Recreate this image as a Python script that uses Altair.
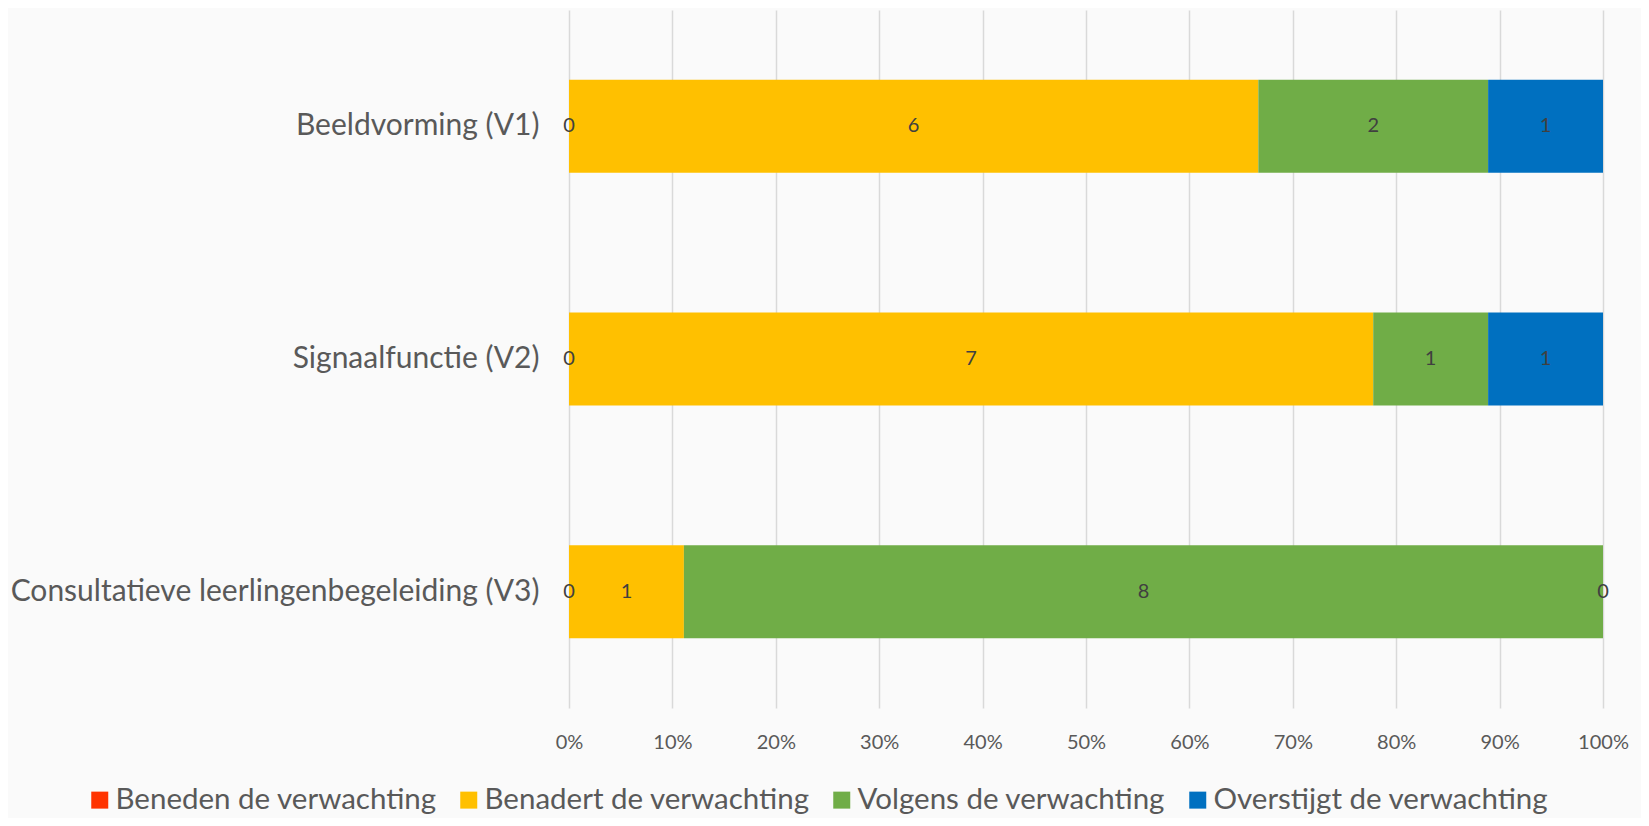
import altair as alt
import pandas as pd

categories = ["Beeldvorming (V1)", "Signaalfunctie (V2)", "Consultatieve leerlingenbegeleiding (V3)"]
series = ["Beneden de verwachting", "Benadert de verwachting", "Volgens de verwachting", "Overstijgt de verwachting"]
colors = ["#FF3300", "#FFC000", "#70AD47", "#0070C0"]
beneden = [0, 0, 0]
benadert = [6, 7, 1]
volgens = [2, 1, 8]
overstijgt = [1, 1, 0]

values = [beneden, benadert, volgens, overstijgt]
rows = []
for ci, cat in enumerate(categories):
    total = sum(v[ci] for v in values)
    cum = 0
    for si, s in enumerate(series):
        val = values[si][ci]
        start = cum / total
        cum += val
        end = cum / total
        rows.append({"cat": cat, "series": s, "order": si, "value": val,
                     "start": start, "end": end, "mid": (start + end) / 2})
df = pd.DataFrame(rows)

FONT = "Lato"

y_enc = alt.Y("cat:N", sort=categories, title=None,
              scale=alt.Scale(paddingInner=0.6, paddingOuter=0.3),
              axis=alt.Axis(labelFontSize=30, labelColor="#595959", labelFont=FONT,
                            domain=False, ticks=False, labelPadding=30, labelLimit=600, grid=False))

bars = alt.Chart(df).mark_bar(stroke=None).encode(
    y=y_enc,
    x=alt.X("start:Q", title=None,
            scale=alt.Scale(domain=[0, 1], nice=False),
            axis=alt.Axis(format="%", values=[i / 10 for i in range(11)],
                          labelFontSize=20, labelColor="#595959", labelFont=FONT,
                          labelFlush=False, labelOverlap=False,
                          domain=False, ticks=False, labelPadding=24,
                          grid=True, gridColor="#D9D9D9", gridWidth=1.5)),
    x2="end:Q",
    color=alt.Color("series:N", sort=series,
                    scale=alt.Scale(domain=series, range=colors),
                    legend=alt.Legend(title=None, orient="none", direction="horizontal",
                                      legendX=-484, legendY=775,
                                      symbolType="square", symbolSize=289,
                                      symbolStrokeWidth=0, labelFontSize=29.5,
                                      labelFont=FONT, labelColor="#595959",
                                      labelOffset=1, columnPadding=17, labelLimit=600)),
    order=alt.Order("order:Q"),
)

labels = alt.Chart(df).mark_text(fontSize=20, font=FONT, color="#404040",
                                 baseline="middle", align="center").encode(
    y=alt.Y("cat:N", sort=categories),
    x=alt.X("mid:Q"),
    text=alt.Text("value:Q"),
)

chart = alt.layer(bars, labels).properties(
    width=1034, height=698,
    autosize=alt.AutoSizeParams(type="none"),
    padding={"left": 561, "top": 2, "right": 38, "bottom": 110},
    background="#FAFAFA",
).configure_view(stroke=None)

chart.save("out.html", embed_options={"renderer": "svg", "actions": False})
